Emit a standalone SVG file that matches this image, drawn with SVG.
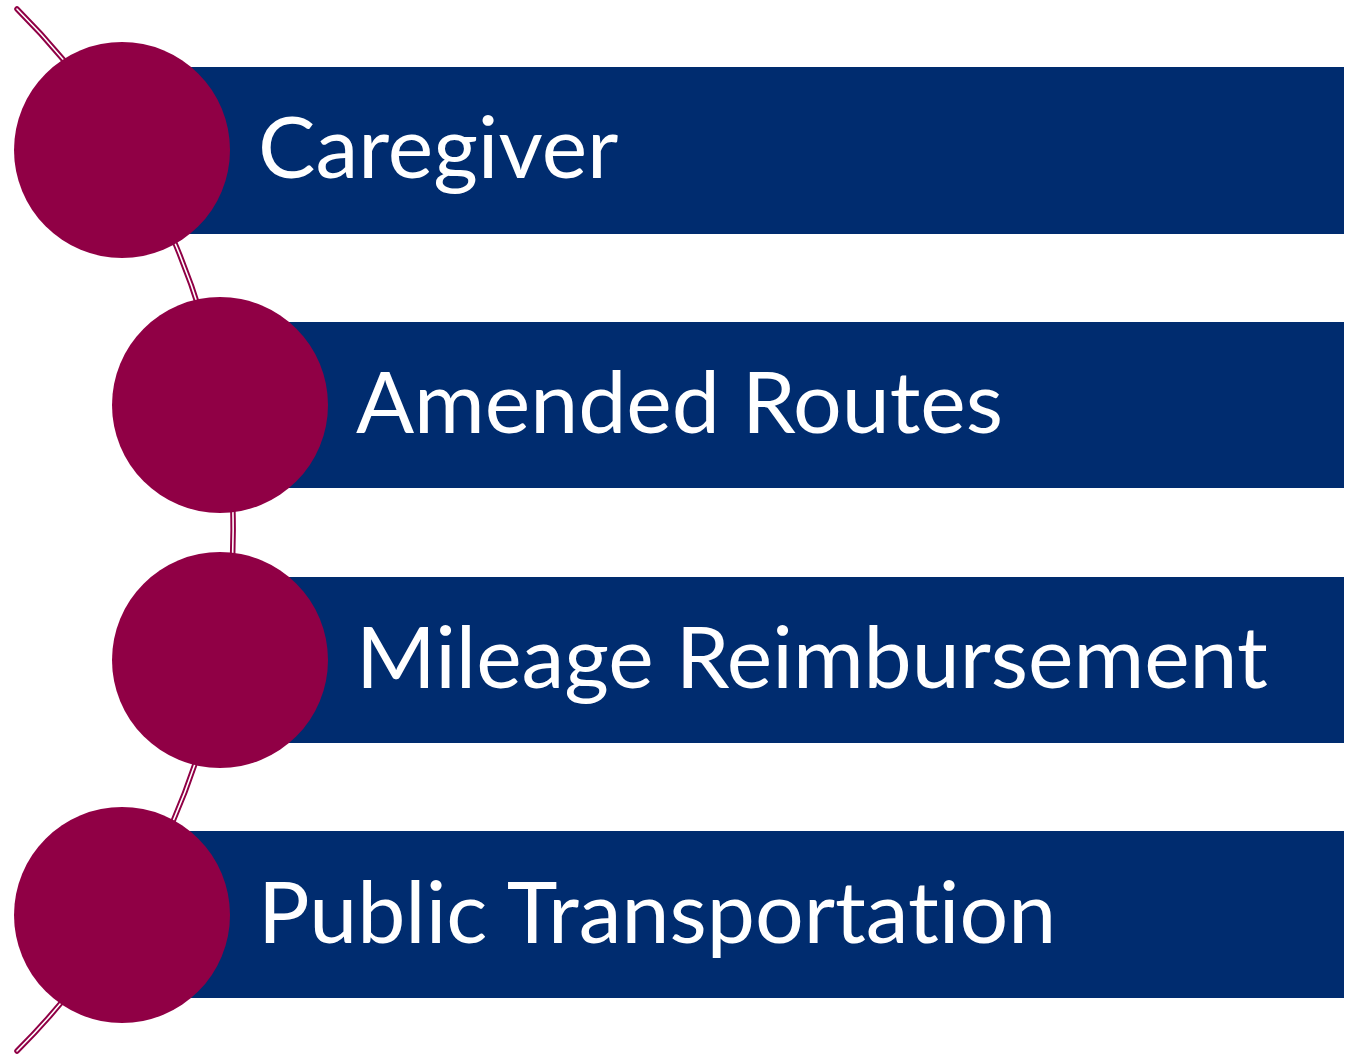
<svg xmlns="http://www.w3.org/2000/svg" width="1346" height="1058" viewBox="0 0 1346 1058">
<style>
.bar{fill:#002C6F;}
.dot{fill:#900045;}
.lbl{font-family:Lato,"Open Sans","Liberation Sans",sans-serif;font-size:86px;fill:#FFFFFF;font-variant-ligatures:none;}
.arcO{fill:none;stroke:#900045;stroke-width:5.5;stroke-linecap:round;}
.arcI{fill:none;stroke:#FFFFFF;stroke-width:1.6;stroke-linecap:round;}
</style>
<rect width="1346" height="1058" fill="#FFFFFF"/>
<g id="connectors">
<path class="arcO" d="M 17 9 A 736 736 0 0 1 17 1051"/>
<path class="arcI" d="M 17 9 A 736 736 0 0 1 17 1051"/>
</g>
<g id="node1">
<rect class="bar" x="122" y="67" width="1222" height="167"/>
<circle class="dot" cx="122" cy="150" r="108"/>
<text class="lbl" x="258" y="178">Caregiver</text>
</g>
<g id="node2">
<rect class="bar" x="220" y="322" width="1124" height="166"/>
<circle class="dot" cx="220" cy="405" r="108"/>
<text class="lbl" x="356" y="433">Amended Routes</text>
</g>
<g id="node3">
<rect class="bar" x="220" y="577" width="1124" height="166"/>
<circle class="dot" cx="220" cy="660" r="108"/>
<text class="lbl" x="356" y="688">Mileage Reimbursement</text>
</g>
<g id="node4">
<rect class="bar" x="122" y="831" width="1222" height="167"/>
<circle class="dot" cx="122" cy="915" r="108"/>
<text class="lbl" x="258" y="943">Public Transportation</text>
</g>
</svg>
